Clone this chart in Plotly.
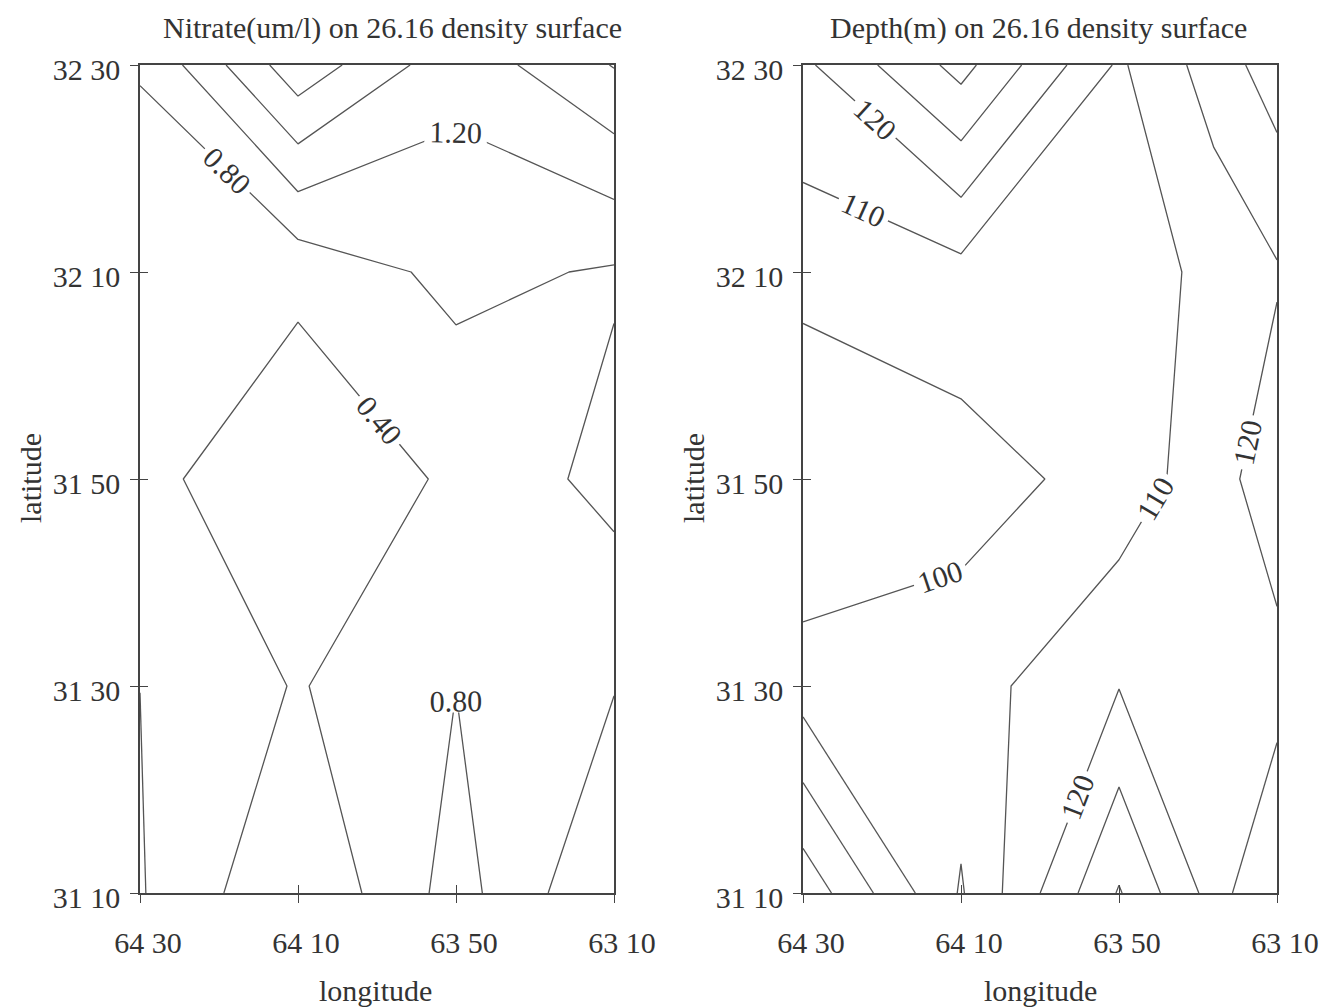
import plotly.graph_objects as go

# ---- grid positions (minutes east of 64 30 W, minutes north of 31 10 N) ----
lon_ticks = [0, 20, 40, 60]
lon_labels = ["64 30", "64 10", "63 50", "63 10"]
lat_ticks = [0, 20, 40, 60, 80]
lat_labels = ["31 10", "31 30", "31 50", "32 10", "32 30"]

# Nitrate (um/l) grid nodes
nitrate_lon = [0, 20, 40, 60]
nitrate_lat = [0, 20, 40, 60, 80]
nitrate_row_3110 = [0.83, 0.02, 0.96, 0.00]
nitrate_row_3130 = [0.799, 0.37, 0.795, 0.42]
nitrate_row_3150 = [0.551, 0.00, 0.485, 0.93]
nitrate_row_3210 = [0.71, 0.528, 0.908, 0.757]
nitrate_row_3230 = [0.81, 2.26, 1.33, 2.02]

# Depth (m) grid nodes
depth_lon = [0, 20, 40, 52, 60]
depth_lat = [0, 20, 40, 60, 80]
depth_row_3110 = [136.8, 99.1, 140.8, 116.1, 129.3]
depth_row_3130 = [105.3, 105.5, 119.7, 118.0, 116.5]
depth_row_3150 = [88.2, 95.7, 103.8, 116.1, 125.6]
depth_row_3210 = [103.9, 106.8, 104.0, 113.05, 119.05]
depth_row_3230 = [118.0, 143.4, 108.5, 124.6, 135.3]

FONT = "Liberation Serif"
TXT = "#333333"
LINE = "#555555"
AX = "#444444"

W, H = 1320, 1000   # page body adds an 8px offset
OFF = 8


def px(x):
    return (x - OFF) / W


def py(y):
    return 1 - (y - OFF) / H


nitrate_z = [nitrate_row_3110, nitrate_row_3130, nitrate_row_3150,
             nitrate_row_3210, nitrate_row_3230]
depth_z = [depth_row_3110, depth_row_3130, depth_row_3150,
           depth_row_3210, depth_row_3230]

fig = go.Figure()

fig.add_trace(go.Contour(
    x=nitrate_lon, y=nitrate_lat, z=nitrate_z,
    xaxis="x", yaxis="y",
    colorscale=[[0, LINE], [1, LINE]], showscale=False,
    line=dict(width=1.3, smoothing=0),
    contours=dict(start=0.4, end=2.05, size=0.4, coloring="lines",
                  showlabels=True, labelformat=".2f",
                  labelfont=dict(family=FONT, size=30, color=TXT)),
    hoverinfo="skip",
))

fig.add_trace(go.Contour(
    x=depth_lon, y=depth_lat, z=depth_z,
    xaxis="x2", yaxis="y2",
    colorscale=[[0, LINE], [1, LINE]], showscale=False,
    line=dict(width=1.3, smoothing=0),
    contours=dict(start=100, end=140, size=10, coloring="lines",
                  showlabels=True, labelformat=".0f",
                  labelfont=dict(family=FONT, size=30, color=TXT)),
    hoverinfo="skip",
))

# empty traces so the overlaid inside-tick axes get drawn
fig.add_trace(go.Scatter(x=[], y=[], xaxis="x3", yaxis="y3",
                         showlegend=False, hoverinfo="skip"))
fig.add_trace(go.Scatter(x=[], y=[], xaxis="x4", yaxis="y4",
                         showlegend=False, hoverinfo="skip"))

xdomL = [px(140), px(614)]
xdomR = [px(803), px(1277)]
ydom = [py(893), py(65)]

tickfont = dict(family=FONT, size=30, color=TXT)


def xax(domain, anchor):
    return dict(domain=domain, anchor=anchor, range=[0, 60], fixedrange=True,
                automargin=False,
                showgrid=False, zeroline=False, showline=True, linecolor=AX,
                linewidth=1.5, mirror=True, ticks="outside", ticklen=8,
                tickwidth=1.2, tickcolor=AX, tickvals=lon_ticks,
                ticktext=lon_labels, tickfont=tickfont,
                ticklabelstandoff=14, ticklabelshift=8)


def yax(anchor):
    return dict(domain=ydom, anchor=anchor, range=[0, 80], fixedrange=True,
                automargin=False,
                showgrid=False, zeroline=False, showline=True, linecolor=AX,
                linewidth=1.5, mirror=True, ticks="outside", ticklen=8,
                tickwidth=1.2, tickcolor=AX, tickvals=lat_ticks,
                ticktext=lat_labels, tickfont=tickfont,
                ticklabelstandoff=4, ticklabelshift=4)


def xin(domain, over, anchor):
    return dict(domain=domain, overlaying=over, anchor=anchor, range=[0, 60],
                automargin=False, side="bottom",
                fixedrange=True, showgrid=False, zeroline=False,
                showline=False, ticks="inside", ticklen=8, tickwidth=1.2,
                tickcolor=AX, tickvals=lon_ticks, showticklabels=False)


def yin(over, anchor):
    return dict(domain=ydom, overlaying=over, anchor=anchor, range=[0, 80],
                automargin=False, side="left",
                fixedrange=True, showgrid=False, zeroline=False,
                showline=False, ticks="inside", ticklen=8, tickwidth=1.2,
                tickcolor=AX, tickvals=lat_ticks, showticklabels=False)


ann_font = dict(family=FONT, size=30, color=TXT)
annotations = [
    dict(text="Nitrate(um/l) on 26.16 density surface", x=px(392),
         y=py(28), xref="paper", yref="paper", showarrow=False,
         xanchor="center", yanchor="middle", font=ann_font),
    dict(text="Depth(m) on 26.16 density surface", x=px(1038),
         y=py(28), xref="paper", yref="paper", showarrow=False,
         xanchor="center", yanchor="middle", font=ann_font),
    dict(text="latitude", x=px(30), y=py(478), xref="paper",
         yref="paper", showarrow=False, textangle=-90, xanchor="center",
         yanchor="middle", font=ann_font),
    dict(text="latitude", x=px(693), y=py(478), xref="paper",
         yref="paper", showarrow=False, textangle=-90, xanchor="center",
         yanchor="middle", font=ann_font),
    dict(text="longitude", x=px(375), y=py(990), xref="paper",
         yref="paper", showarrow=False, xanchor="center", yanchor="middle",
         font=ann_font),
    dict(text="longitude", x=px(1040), y=py(990), xref="paper",
         yref="paper", showarrow=False, xanchor="center", yanchor="middle",
         font=ann_font),
]

fig.update_layout(
    width=W, height=H,
    margin=dict(l=0, r=0, t=0, b=0, autoexpand=False),
    paper_bgcolor="white", plot_bgcolor="white",
    showlegend=False,
    xaxis=xax(xdomL, "y"), yaxis=yax("x"),
    xaxis2=xax(xdomR, "y2"), yaxis2=yax("x2"),
    xaxis3=xin(xdomL, "x", "y"), yaxis3=yin("y", "x"),
    xaxis4=xin(xdomR, "x2", "y2"), yaxis4=yin("y2", "x2"),
    annotations=annotations,
)

fig.write_html("out.html")
